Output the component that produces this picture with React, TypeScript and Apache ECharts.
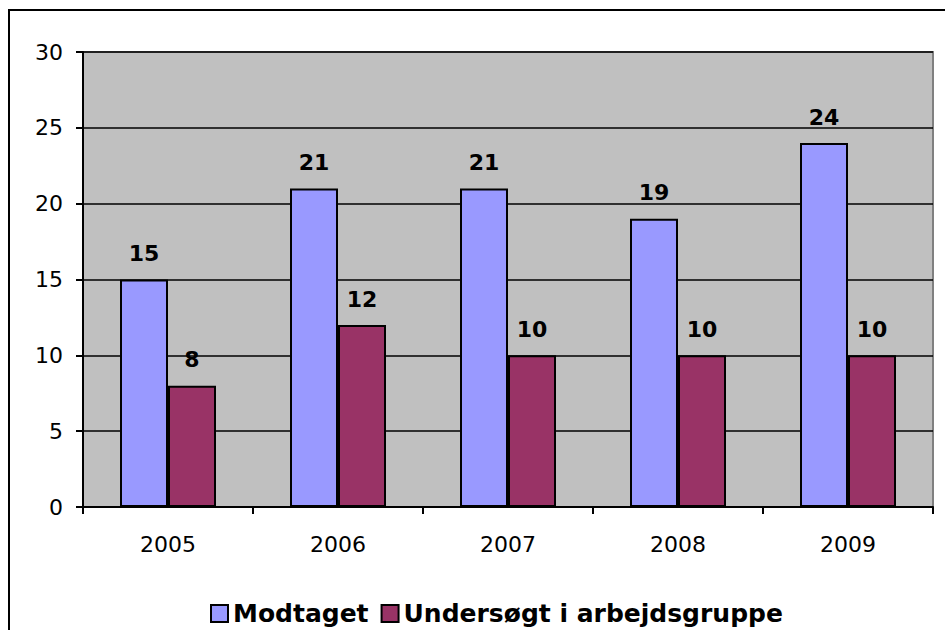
import React, { useEffect, useRef } from "react";
import * as echarts from "echarts";

const years = ["2005", "2006", "2007", "2008", "2009"];
const modtaget = [15, 21, 21, 19, 24];
const undersoegt = [8, 12, 10, 10, 10];
const seriesNames = ["Modtaget", "Undersøgt i arbejdsgruppe"];

const FONT = "'DejaVu Sans', Verdana, sans-serif";

export default function App() {
  const ref = useRef<HTMLDivElement>(null);
  useEffect(() => {
    if (!ref.current) return;
    const chart = echarts.init(ref.current, null, { renderer: "svg" });
    const labelCfg = {
      show: true,
      position: "top",
      distance: 15,
      color: "#000",
      fontWeight: "bold",
      fontSize: 22,
      fontFamily: FONT,
    };
    chart.setOption({
      animation: false,
      backgroundColor: "#fff",
      textStyle: { fontFamily: FONT },
      graphic: [
        {
          type: "rect",
          shape: { x: 9, y: 10, width: 1000, height: 700 },
          style: { fill: "none", stroke: "#000", lineWidth: 2 },
          silent: true,
          z: 100,
        },
      ],
      grid: {
        left: 83,
        top: 52,
        right: 12,
        bottom: 123,
        show: true,
        backgroundColor: "#C0C0C0",
        borderColor: "#808080",
        borderWidth: 2,
      },
      legend: {
        left: 205,
        top: 596,
        icon: "rect",
        itemWidth: 17,
        itemHeight: 17,
        itemGap: 12,
        textStyle: { fontSize: 25, fontWeight: "bold", color: "#000", fontFamily: FONT },
        data: seriesNames,
      },
      xAxis: {
        type: "category",
        data: years,
        axisLine: { lineStyle: { color: "#000", width: 2 } },
        axisTick: { show: true, length: 7, lineStyle: { color: "#000", width: 2 } },
        axisLabel: { color: "#000", fontSize: 22, margin: 26, fontFamily: FONT },
      },
      yAxis: {
        type: "value",
        min: 0,
        max: 30,
        interval: 5,
        axisLine: { show: true, lineStyle: { color: "#000", width: 2 } },
        axisTick: { show: true, length: 7, lineStyle: { color: "#000", width: 2 } },
        axisLabel: { color: "#000", fontSize: 22, margin: 20, fontFamily: FONT },
        splitLine: { show: true, lineStyle: { color: "#000", width: 1.5 } },
      },
      series: [
        {
          name: seriesNames[0],
          type: "bar",
          data: modtaget,
          barWidth: 48,
          barGap: "0%",
          itemStyle: { color: "#9999FF", borderColor: "#000", borderWidth: 2 },
          label: labelCfg,
        },
        {
          name: seriesNames[1],
          type: "bar",
          data: undersoegt,
          barWidth: 48,
          barGap: "0%",
          itemStyle: { color: "#993366", borderColor: "#000", borderWidth: 2 },
          label: labelCfg,
        },
      ],
    });
    return () => chart.dispose();
  }, []);
  return (
    <div
      ref={ref}
      style={{ position: "absolute", left: 0, top: 0, width: 945, height: 630 }}
    />
  );
}
